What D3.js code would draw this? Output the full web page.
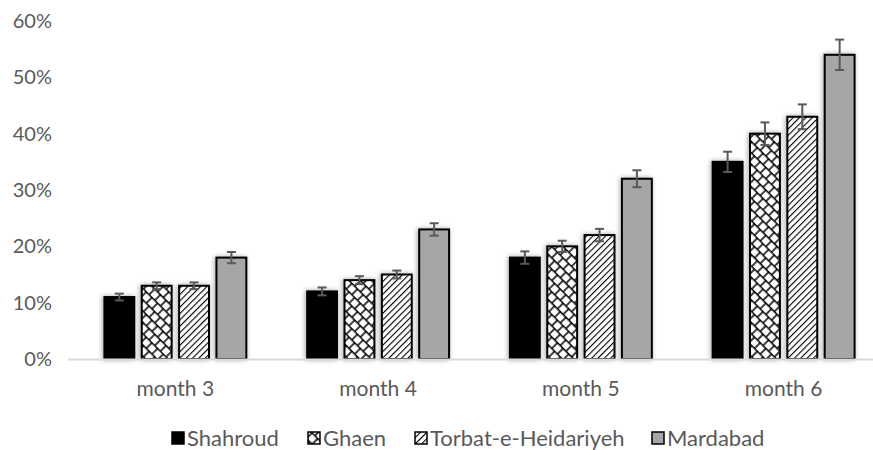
<!DOCTYPE html>
<html>
<head>
<meta charset="utf-8">
<script src="https://cdn.jsdelivr.net/npm/d3@7"></script>
<style>
  body { margin: 0; background: #fff; }
  svg text { font-family: Lato, "Open Sans", sans-serif; fill: #595959; }
</style>
</head>
<body>
<svg id="chart" width="873" height="450"></svg>
<script>
const months = ["month 3", "month 4", "month 5", "month 6"];
const sites = ["Shahroud", "Ghaen", "Torbat-e-Heidariyeh", "Mardabad"];

// percent values per site, one entry per month
const shahroud = [11, 12, 18, 35];
const ghaen = [13, 14, 20, 40];
const torbat = [13, 15, 22, 43];
const mardabad = [18, 23, 32, 54];

// error bar half widths
const shahroudErr = [0.6, 0.7, 1.1, 1.8];
const ghaenErr = [0.6, 0.7, 1.0, 2.0];
const torbatErr = [0.6, 0.7, 1.1, 2.2];
const mardabadErr = [1.0, 1.1, 1.5, 2.7];

const yTicks = [0, 10, 20, 30, 40, 50, 60];

const values = [shahroud, ghaen, torbat, mardabad];
const errors = [shahroudErr, ghaenErr, torbatErr, mardabadErr];
const fills = ["#000000", "url(#brick)", "url(#stripes)", "#a6a6a6"];

const svg = d3.select("#chart");
const defs = svg.append("defs");

// diagonal brick pattern
const brick = defs.append("pattern")
    .attr("id", "brick")
    .attr("patternUnits", "userSpaceOnUse")
    .attr("width", 16)
    .attr("height", 16)
    .attr("patternTransform", "rotate(45)");
brick.append("rect").attr("width", 16).attr("height", 16).attr("fill", "#fff");
brick.append("path")
    .attr("d", "M0,0.75H16M0,8.75H16M4,0.75V8.75M12,0.75V8.75M0,8.75V16.75M8,8.75V16.75M16,8.75V16.75")
    .attr("stroke", "#000")
    .attr("stroke-width", 1.5)
    .attr("fill", "none");

// wide upward diagonal
const stripes = defs.append("pattern")
    .attr("id", "stripes")
    .attr("patternUnits", "userSpaceOnUse")
    .attr("width", 4.5)
    .attr("height", 4.5)
    .attr("patternTransform", "rotate(45)");
stripes.append("rect").attr("width", 4.5).attr("height", 4.5).attr("fill", "#fff");
stripes.append("line")
    .attr("x1", 0).attr("y1", 0).attr("x2", 0).attr("y2", 4.5)
    .attr("stroke", "#000")
    .attr("stroke-width", 2.2);

const shadow = defs.append("filter")
    .attr("id", "shadow")
    .attr("x", "-30%").attr("y", "-10%")
    .attr("width", "160%").attr("height", "120%");
shadow.append("feDropShadow")
    .attr("dx", -1).attr("dy", 0)
    .attr("stdDeviation", 2.5)
    .attr("flood-color", "#000")
    .attr("flood-opacity", 0.35);

const x0 = d3.scaleBand()
    .domain(months)
    .range([74, 885])
    .paddingInner(0.3)
    .paddingOuter(0.15);

const x1 = d3.scaleBand()
    .domain(sites)
    .range([0, x0.bandwidth()])
    .paddingInner(0.2);

const y = d3.scaleLinear()
    .domain([0, 60])
    .range([359, 21]);

// y-axis labels
const yAxis = svg.append("g")
    .attr("transform", "translate(68,0)")
    .call(d3.axisLeft(y).tickValues(yTicks).tickFormat(d => d + "%").tickSize(0).tickPadding(16));
yAxis.select(".domain").remove();
yAxis.selectAll("text").attr("font-size", 20).style("font-family", null);

// bars
const groups = svg.append("g")
    .selectAll("g")
    .data(months)
    .join("g")
    .attr("transform", d => `translate(${x0(d)},0)`);

groups.selectAll("rect")
    .data((m, i) => sites.map((s, j) => ({ site: s, j: j, v: values[j][i], e: errors[j][i] })))
    .join("rect")
    .attr("x", d => x1(d.site))
    .attr("y", d => y(d.v))
    .attr("width", x1.bandwidth())
    .attr("height", d => y(0) - y(d.v))
    .attr("fill", d => fills[d.j])
    .attr("stroke", "#000")
    .attr("stroke-width", 2)
    .attr("filter", "url(#shadow)");

// error bars
const errs = groups.selectAll("g.err")
    .data((m, i) => sites.map((s, j) => ({ site: s, v: values[j][i], e: errors[j][i] })))
    .join("g")
    .attr("class", "err")
    .attr("stroke", "#595959")
    .attr("stroke-width", 2);
errs.append("line")
    .attr("x1", d => x1(d.site) + x1.bandwidth() / 2)
    .attr("x2", d => x1(d.site) + x1.bandwidth() / 2)
    .attr("y1", d => y(d.v + d.e))
    .attr("y2", d => y(d.v - d.e));
errs.selectAll("line.cap")
    .data(d => [{ d: d, v: d.v + d.e }, { d: d, v: d.v - d.e }])
    .join("line")
    .attr("class", "cap")
    .attr("x1", c => x1(c.d.site) + x1.bandwidth() / 2 - 4.5)
    .attr("x2", c => x1(c.d.site) + x1.bandwidth() / 2 + 4.5)
    .attr("y1", c => y(c.v))
    .attr("y2", c => y(c.v));

// x-axis
const xAxis = svg.append("g")
    .attr("transform", "translate(0,359)")
    .call(d3.axisBottom(x0).tickSize(0).tickPadding(22));
xAxis.select(".domain")
    .attr("d", "M68,0.5H873")
    .attr("stroke", "#d9d9d9")
    .attr("stroke-width", 2);
xAxis.selectAll("text").attr("font-size", 21).style("font-family", null);

// legend
const legendX = [171, 307, 414, 651];
const legend = svg.append("g")
    .selectAll("g")
    .data(sites)
    .join("g")
    .attr("transform", (d, i) => `translate(${legendX[i]},438)`);
legend.append("rect")
    .attr("x", 1).attr("y", -6)
    .attr("width", 12).attr("height", 12)
    .attr("fill", (d, i) => fills[i])
    .attr("stroke", "#000")
    .attr("stroke-width", 1.5);
legend.append("text")
    .attr("x", 16)
    .attr("dy", "0.36em")
    .attr("font-size", 22)
    .text(d => d);
</script>
</body>
</html>
